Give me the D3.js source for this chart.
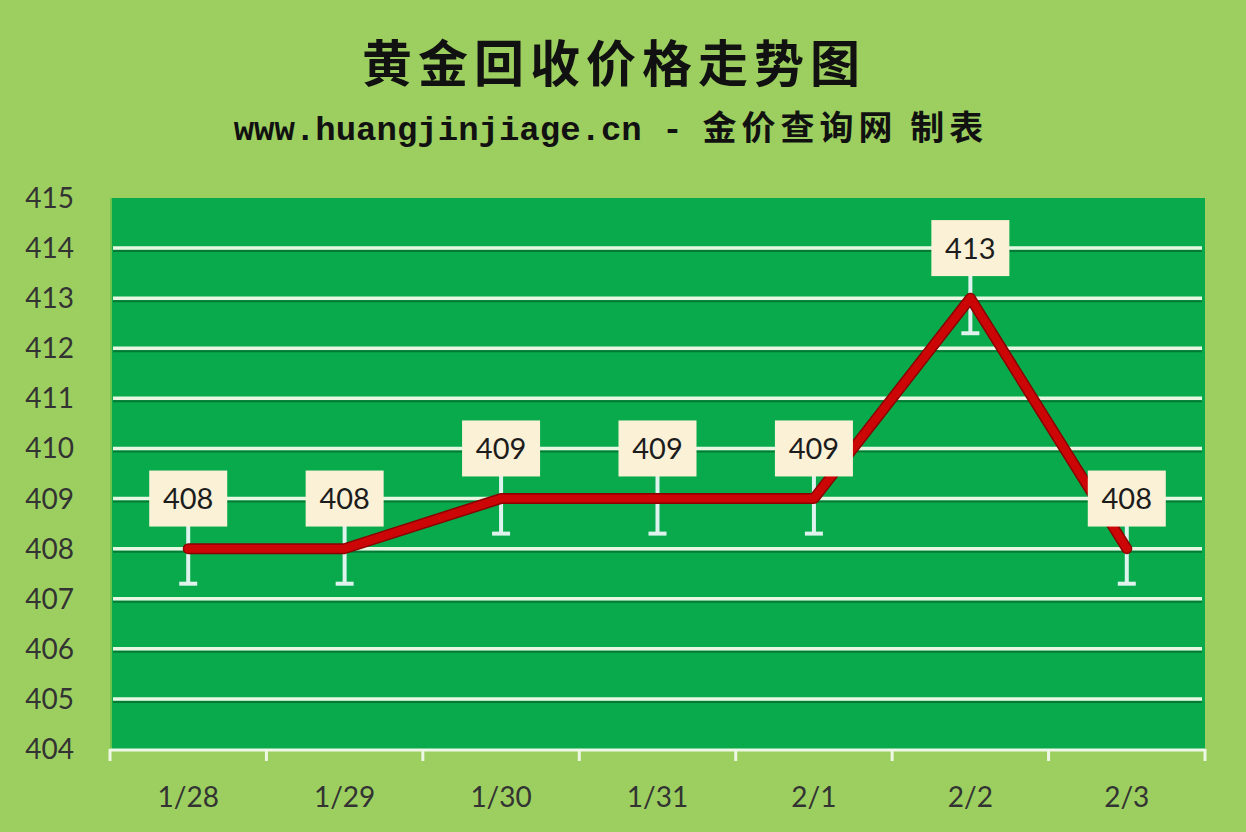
<!DOCTYPE html>
<html><head><meta charset="utf-8">
<script src="https://cdn.jsdelivr.net/npm/d3@7"></script>
<style>body{margin:0;background:#9ccf5f;}svg{display:block}</style>
</head><body>
<svg id="c" width="1246" height="832"></svg>
<script>
const categories = ["1/28","1/29","1/30","1/31","2/1","2/2","2/3"];
const prices = [408,408,409,409,409,413,408];
const yTicks = [404,405,406,407,408,409,410,411,412,413,414,415];
const errMinus = [0.7,0.7,0.7,0.7,0.7,0.7,0.7];
const title = "黄金回收价格走势图";
const subtitleUrl = "www.huangjinjiage.cn -";
const subtitleCn = "金价查询网 制表";

const svg = d3.select("#c");
const W = 1246, H = 832;
const L = 110, R = 1205, T = 198, B = 749;

svg.append("rect").attr("width",W).attr("height",H).attr("fill","#9ccf5f");

const x = d3.scaleBand().domain(categories).range([L,R]).padding(0);
const y = d3.scaleLinear().domain([404,415]).range([B,T]);

// plot area
svg.append("rect").attr("x",L).attr("y",y(415)).attr("width",R-L).attr("height",B-y(415)).attr("fill","#08aa4c");
svg.append("line").attr("x1",L+1).attr("x2",L+1).attr("y1",y(415)).attr("y2",B).attr("stroke","#6cc24a").attr("stroke-width",2);

// gridlines
const g = svg.append("g");
yTicks.filter(t=>t>404 && t<415).forEach(t=>{
  g.append("line").attr("x1",L+3).attr("x2",R-3).attr("y1",y(t)+3).attr("y2",y(t)+3).attr("stroke","#067a35").attr("stroke-width",2);
  g.append("line").attr("x1",L+3).attr("x2",R-3).attr("y1",y(t)).attr("y2",y(t)).attr("stroke","#e8f7e2").attr("stroke-width",3.5);
});

// y axis labels
const yAxis = d3.axisLeft(y).tickValues(yTicks).tickSize(0).tickPadding(0);
const ya = svg.append("g").attr("transform",`translate(74,0)`).call(yAxis);
ya.select(".domain").remove();
ya.selectAll("text").attr("font-family","Lato, 'Open Sans', sans-serif").attr("font-size",28).attr("fill","#333").attr("dy","0.34em");

// x axis
const xa = svg.append("g").attr("transform",`translate(0,${B})`);
xa.append("line").attr("x1",L).attr("x2",R).attr("y1",1).attr("y2",1).attr("stroke","#eef7e6").attr("stroke-width",3);
const bounds = categories.map(c=>x(c)).concat([R]);
bounds.forEach(bx=>{
  xa.append("line").attr("x1",bx).attr("x2",bx).attr("y1",0).attr("y2",12).attr("stroke","#eef7e6").attr("stroke-width",3);
});
xa.selectAll("text.xl").data(categories).enter().append("text").attr("class","xl")
  .attr("x",d=>x(d)+x.bandwidth()/2).attr("y",58).attr("text-anchor","middle")
  .attr("font-family","Lato, 'Open Sans', sans-serif").attr("font-size",28).attr("fill","#333").text(d=>d);

const cx = d => x(d)+x.bandwidth()/2;

// error bars
const eb = svg.append("g");
categories.forEach((c,i)=>{
  const v = prices[i];
  eb.append("line").attr("x1",cx(c)).attr("x2",cx(c)).attr("y1",y(v+0.7)).attr("y2",y(v-errMinus[i])).attr("stroke","#dff3ee").attr("stroke-width",4);
  eb.append("line").attr("x1",cx(c)-9).attr("x2",cx(c)+9).attr("y1",y(v-errMinus[i])).attr("y2",y(v-errMinus[i])).attr("stroke","#dff3ee").attr("stroke-width",4);
});

// line
const line = d3.line().x((d,i)=>cx(categories[i])).y(d=>y(d));
svg.append("path").datum(prices).attr("d",line).attr("fill","none").attr("stroke","#8a0000").attr("stroke-width",11).attr("stroke-linejoin","round").attr("stroke-linecap","round");
svg.append("path").datum(prices).attr("d",line).attr("fill","none").attr("stroke","#cc0606").attr("stroke-width",8).attr("stroke-linejoin","round").attr("stroke-linecap","round");

// labels
const lb = svg.append("g");
categories.forEach((c,i)=>{
  const v = prices[i];
  const by = y(v+1);
  lb.append("rect").attr("x",cx(c)-39).attr("y",by-28).attr("width",78).attr("height",56).attr("fill","#fbf1d6");
  lb.append("text").attr("x",cx(c)).attr("y",by).attr("dy","0.36em").attr("text-anchor","middle")
    .attr("font-family","Lato, 'Open Sans', sans-serif").attr("font-size",29).attr("fill","#1c1c1c").text(v);
});

// titles
svg.append("text").attr("x",614).attr("y",82).attr("text-anchor","middle")
  .attr("font-family","'Noto Sans CJK SC'").attr("font-weight","bold").attr("font-size",50).attr("fill","#111").attr("letter-spacing",6).text(title);
const st = svg.append("text").attr("x",611).attr("y",140).attr("text-anchor","middle").attr("fill","#111").attr("font-weight","bold");
st.append("tspan").attr("font-family","'Liberation Mono'").attr("font-size",34).text(subtitleUrl);
st.append("tspan").attr("font-family","'Noto Sans CJK SC'").attr("font-size",34).attr("dx",20).attr("letter-spacing",5).text(subtitleCn);
</script>
</body></html>
